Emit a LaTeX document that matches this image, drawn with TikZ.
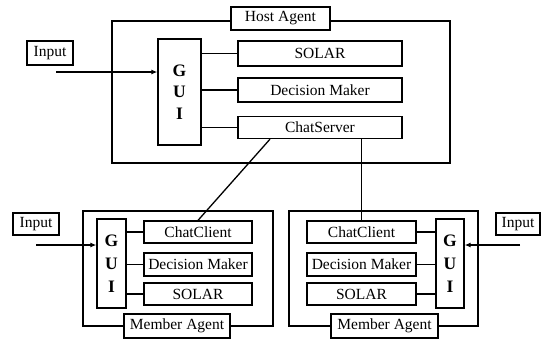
\documentclass[tikz,border=0pt]{standalone}
\usepackage{fontspec}
\setmainfont{Liberation Serif}
\usetikzlibrary{arrows.meta}
\begin{document}
\begin{tikzpicture}[x=1pt,y=-1pt,line width=1.3pt,
  box/.style={draw,fill=white,inner sep=0pt,font=\fontsize{15.5}{18}\selectfont},
  guibox/.style={draw,fill=white,inner sep=0pt,align=center},
  link/.style={draw},
  arr/.style={-{Latex[length=6pt,width=5pt]}}]
\useasboundingbox (0,0) rectangle (546,341);
% Host agent
\draw (112,21) rectangle (450,163);
\node[box,minimum width=99pt,minimum height=23pt] (hostlbl) at (280.5,18.5) {Host Agent};
\node[box,minimum width=46pt,minimum height=24pt] (in1) at (50,53) {Input};
\node[guibox,minimum width=43pt,minimum height=106pt,font=\fontsize{17.5}{21.5}\selectfont\bfseries] (gui1) at (179.5,92) {G\\U\\I};
\node[box,minimum width=164pt,minimum height=25pt] (sol1) at (320,53.5) {SOLAR};
\node[box,minimum width=164pt,minimum height=24pt] (dm1) at (320,90) {Decision Maker};
\node[box,minimum width=164pt,minimum height=22pt] (cs) at (320,127.5) {ChatServer};
\coordinate (a1) at (56,72);
\draw[arr] (a1) -- (a1 -| gui1.west);
\draw[link] (sol1.west) -- (sol1.west -| gui1.east);
\draw[link] (dm1.west) -- (dm1.west -| gui1.east);
\draw[link] (cs.west) -- (cs.west -| gui1.east);
% Left member agent
\draw (83,211) rectangle (273,326);
\node[box,minimum width=106pt,minimum height=24pt] (mlblL) at (177,326) {Member Agent};
\node[box,minimum width=46pt,minimum height=22pt] (in2) at (36,224) {Input};
\node[guibox,minimum width=29pt,minimum height=89pt,font=\fontsize{17.5}{23}\selectfont\bfseries] (gui2) at (111.5,263.5) {G\\U\\I};
\node[box,minimum width=108pt,minimum height=22pt] (ccL) at (198,232) {ChatClient};
\node[box,minimum width=108pt,minimum height=23pt] (dmL) at (198,264.5) {Decision Maker};
\node[box,minimum width=108pt,minimum height=22pt] (solL) at (198,294) {SOLAR};
\coordinate (a2) at (36,245);
\draw[arr] (a2) -- (a2 -| gui2.west);
\draw[link] (ccL.west) -- (ccL.west -| gui2.east);
\draw[link] (dmL.west) -- (dmL.west -| gui2.east);
\draw[link] (solL.west) -- (solL.west -| gui2.east);
% Right member agent
\draw (289,211) rectangle (478,326);
\node[box,minimum width=107pt,minimum height=24pt] (mlblR) at (384.5,326) {Member Agent};
\node[box,minimum width=44pt,minimum height=22pt] (in3) at (518,224) {Input};
\node[guibox,minimum width=28pt,minimum height=89pt,font=\fontsize{17.5}{23}\selectfont\bfseries] (gui3) at (450,263.5) {G\\U\\I};
\node[box,minimum width=109pt,minimum height=22pt] (ccR) at (361.5,232) {ChatClient};
\node[box,minimum width=109pt,minimum height=23pt] (dmR) at (361.5,264.5) {Decision Maker};
\node[box,minimum width=109pt,minimum height=22pt] (solR) at (361.5,294) {SOLAR};
\coordinate (a3) at (520,245);
\draw[arr] (a3) -- (a3 -| gui3.east);
\draw[link] (ccR.east) -- (ccR.east -| gui3.west);
\draw[link] (dmR.east) -- (dmR.east -| gui3.west);
\draw[link] (solR.east) -- (solR.east -| gui3.west);
% Chat links
\draw[link] ([xshift=-50pt]cs.south) -- (ccL.north);
\draw[link] (ccR.north) -- (ccR.north |- cs.south);
\end{tikzpicture}
\end{document}
